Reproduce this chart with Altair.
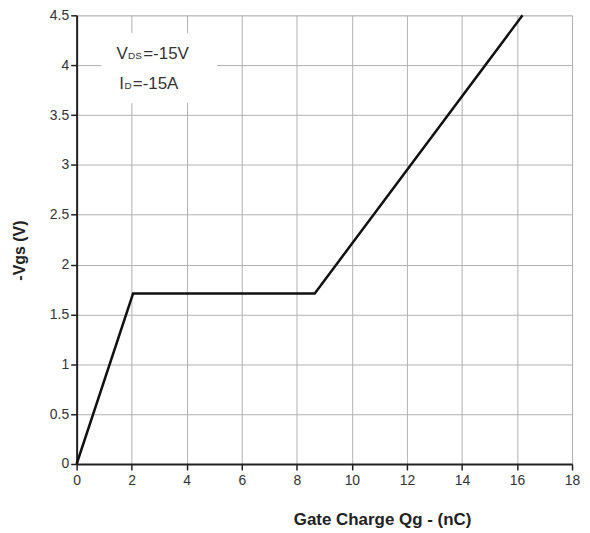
import altair as alt
import pandas as pd

# Curve data (Gate charge in nC, -Vgs in V)
qg = [0.0, 2.05, 8.65, 16.2]
vgs = [0.0, 1.71, 1.71, 4.5]

x_ticks = [0, 2, 4, 6, 8, 10, 12, 14, 16, 18]
y_ticks = [0, 0.5, 1, 1.5, 2, 2.5, 3, 3.5, 4, 4.5]

# annotation pieces
ann_text = ["V", "DS", "=-15V", "I", "D", "=-15A"]
ann_x = [1.45, 1.87, 2.42, 1.55, 1.74, 2.04]
ann_y = [4.06, 4.06, 4.06, 3.76, 3.76, 3.76]
ann_size = [17, 10, 17, 17, 10, 17]

box = pd.DataFrame({"x": [0.9], "x2": [5.1], "y": [3.62], "y2": [4.32]})
curve = pd.DataFrame({"qg": qg, "vgs": vgs})
ann = pd.DataFrame({"t": ann_text, "x": ann_x, "y": ann_y, "s": ann_size})

xscale = alt.Scale(domain=[0, 18], nice=False)
yscale = alt.Scale(domain=[0, 4.5], nice=False)

xaxis = alt.Axis(values=x_ticks, title="Gate Charge Qg - (nC)", grid=True, format="~g",
                 labelFlush=False,
                 gridColor="#b0b0b0", gridWidth=1, domainColor="#222", domainWidth=2,
                 tickColor="#222", tickSize=6, tickWidth=1.5, labelFont="Liberation Sans",
                 labelFontSize=14, labelColor="#333", labelPadding=4,
                 titleFont="Liberation Sans", titleFontSize=17, titleFontWeight="bold",
                 titleColor="#222", titleX=307, titleY=56, titleBaseline="middle")
yaxis = alt.Axis(values=y_ticks, title="-Vgs (V)", grid=True, format="~g",
                 labelFlush=False,
                 gridColor="#b0b0b0", gridWidth=1, domainColor="#222", domainWidth=2,
                 tickColor="#222", tickSize=6, tickWidth=1.5, labelFont="Liberation Sans",
                 labelFontSize=14, labelColor="#333", labelPadding=2,
                 titleFont="Liberation Sans", titleFontSize=16, titleFontWeight="bold",
                 titleColor="#222", titleX=-57, titleY=236, titleBaseline="middle")

line = alt.Chart(curve).mark_line(color="#111", strokeWidth=2.5).encode(
    x=alt.X("qg:Q", scale=xscale, axis=xaxis),
    y=alt.Y("vgs:Q", scale=yscale, axis=yaxis),
)

rect = alt.Chart(box).mark_rect(color="white").encode(
    x=alt.X("x:Q", scale=xscale), x2="x2:Q",
    y=alt.Y("y:Q", scale=yscale), y2="y2:Q",
)

text = alt.Chart(ann).mark_text(align="left", baseline="alphabetic",
                                font="Liberation Sans", color="#333").encode(
    x=alt.X("x:Q", scale=xscale),
    y=alt.Y("y:Q", scale=yscale),
    text="t:N",
    size=alt.Size("s:Q", scale=None, legend=None),
)

chart = alt.layer(rect, line, text).properties(
    width=498, height=451,
    autosize=alt.AutoSizeParams(type="none"),
    padding={"left": 69, "top": 6, "right": 10, "bottom": 68},
).configure_view(stroke="#b0b0b0", strokeWidth=1).configure(background="white")

chart.save("out.html", embed_options={"renderer": "svg", "actions": False})
